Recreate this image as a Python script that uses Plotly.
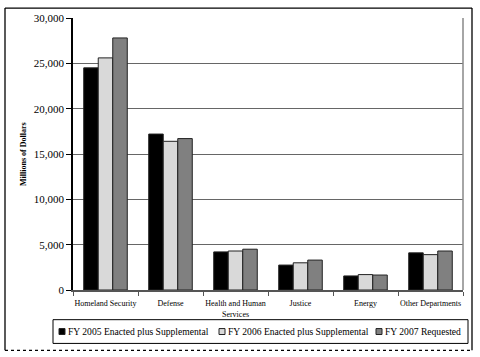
import plotly.graph_objects as go

categories = ["Homeland Security", "Defense", "Health and Human<br>Services", "Justice", "Energy", "Other Departments"]
series_names = ["FY 2005 Enacted plus Supplemental", "FY 2006 Enacted plus Supplemental", "FY 2007 Requested"]
fy2005 = [24500, 17200, 4200, 2750, 1550, 4100]
fy2006 = [25600, 16400, 4300, 3000, 1700, 3900]
fy2007 = [27800, 16700, 4500, 3300, 1650, 4300]
y_ticks = [0, 5000, 10000, 15000, 20000, 25000, 30000]
y_tick_labels = ["0", "5,000", "10,000", "15,000", "20,000", "25,000", "30,000"]

colors = ["#000000", "#D9D9D9", "#808080"]
serif = "Liberation Serif, Times New Roman, serif"

fig = go.Figure()
for name, vals, c in zip(series_names, [fy2005, fy2006, fy2007], colors):
    fig.add_trace(go.Bar(x=categories, y=vals, name=name, marker=dict(color=c, line=dict(color="#222222", width=1)),
                         showlegend=False))

W, H = 480, 357
L, R, T, B = 73, 17, 15, 67
pw, ph = W - L - R, H - T - B

def px(x):
    return (x - L) / pw

def py(y):
    return (H - B - y) / ph

shapes = []
# outer frame
shapes.append(dict(type="line", xref="paper", yref="paper", x0=px(5), x1=px(5), y0=py(5), y1=py(351), line=dict(color="black", width=1.3)))
shapes.append(dict(type="line", xref="paper", yref="paper", x0=px(5), x1=px(472), y0=py(5), y1=py(5), line=dict(color="black", width=1.3)))
shapes.append(dict(type="line", xref="paper", yref="paper", x0=px(472), x1=px(472), y0=py(5), y1=py(351), line=dict(color="black", width=1.3)))
shapes.append(dict(type="line", xref="paper", yref="paper", x0=px(5), x1=px(472), y0=py(351), y1=py(351), line=dict(color="black", width=1.3, dash="dot")))
# plot area right border
shapes.append(dict(type="line", xref="paper", yref="paper", x0=1, x1=1, y0=0, y1=1, line=dict(color="#888888", width=1.5)))
# legend box
shapes.append(dict(type="rect", xref="paper", yref="paper", x0=px(53), x1=px(468), y0=py(320), y1=py(344), line=dict(color="black", width=1)))

annotations = []
text_x = [66, 226, 383]
for name, c, tx in zip(series_names, colors, text_x):
    shapes.append(dict(type="rect", xref="paper", yref="paper", x0=px(tx - 7), x1=px(tx - 1), y0=py(329), y1=py(335),
                       fillcolor=c, line=dict(color="#222222", width=1)))
    annotations.append(dict(xref="paper", yref="paper", x=px(tx), y=py(332), text=name, showarrow=False,
                            xanchor="left", yanchor="middle", font=dict(family=serif, size=9.6, color="black")))

annotations.append(dict(xref="paper", yref="paper", x=px(23), y=0.5, text="<b>Millions of Dollars</b>", textangle=-90,
                        showarrow=False, xanchor="center", yanchor="middle", font=dict(family=serif, size=8, color="black")))

fig.update_layout(
    width=W, height=H,
    margin=dict(l=L, r=R, t=T, b=B),
    paper_bgcolor="white", plot_bgcolor="white",
    barmode="group", bargap=0.33, bargroupgap=0,
    shapes=shapes, annotations=annotations,
    showlegend=False,
)
fig.update_xaxes(type="category", showline=True, linecolor="#555555", linewidth=1.5,
                 ticks="outside", tickson="boundaries", ticklen=4, tickcolor="#555555", ticklabelstandoff=5,
                 tickfont=dict(family=serif, size=8, color="black"), showgrid=False, tickangle=0)
fig.update_yaxes(range=[0, 30000], tickvals=y_ticks, ticktext=y_tick_labels, showline=True, linecolor="black", linewidth=1.5,
                 ticks="outside", ticklen=5, tickcolor="black", showgrid=True, gridcolor="#666666", gridwidth=1,
                 tickfont=dict(family=serif, size=11, color="black"), zeroline=False)

fig.write_html("out.html", config={"displayModeBar": False},
               post_script="document.body.style.margin='0';document.body.style.overflow='hidden';")
